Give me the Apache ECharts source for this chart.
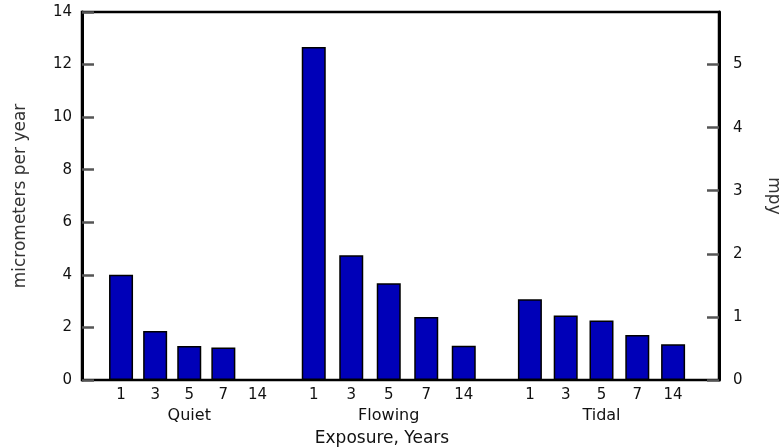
<!DOCTYPE html>
<html>
<head>
<meta charset="utf-8">
<script src="https://cdn.jsdelivr.net/npm/echarts@6/dist/echarts.min.js"></script>
<style>
  html, body { margin: 0; padding: 0; background: #fff; }
  #chart { width: 782px; height: 448px; }
</style>
</head>
<body>
<div id="chart"></div>
<script>
// ---- data ----
const exposureYears = ['1', '3', '5', '7', '14'];
const groupNames = ['Quiet', 'Flowing', 'Tidal'];
const quietRates = [4.0, 1.86, 1.29, 1.24, 0];
const flowingRates = [12.67, 4.75, 3.68, 2.40, 1.30];
const tidalRates = [3.07, 2.45, 2.26, 1.71, 1.36];
const leftAxisMax = 14;           // micrometers per year
const rightAxisAtTwelve = 5;      // mpy shown where 12 µm/y sits
const xTitle = 'Exposure, Years';
const leftTitle = 'micrometers per year';
const rightTitle = 'mpy';

// ---- layout ----
const FONT = 'DejaVu Sans';
const TOP = 12, BOTTOM = 68;
const groupLayout = [
  { left: 104, width: 170.5 },
  { left: 295, width: 187.5 },
  { left: 512, width: 179 }
];
const seriesValues = [quietRates, flowingRates, tidalRates];

const grids = [{ left: 82, right: 63, top: TOP, bottom: BOTTOM, show: true,
  containLabel: false, outerBoundsMode: 'none',
  borderColor: '#000', borderWidth: 2.5, backgroundColor: 'transparent' }];
const xAxes = [{ gridIndex: 0, type: 'value', show: false, min: 0, max: 1 }];
const yAxes = [
  { gridIndex: 0, type: 'value', position: 'left', min: 0, max: leftAxisMax, interval: 2,
    axisLine: { show: true, lineStyle: { color: '#000', width: 3 } },
    axisTick: { show: true, inside: true, length: 12, lineStyle: { color: '#555', width: 2.5 } },
    axisLabel: { margin: 10, fontFamily: FONT, fontSize: 15, color: '#111' },
    splitLine: { show: false },
    name: leftTitle, nameLocation: 'middle', nameRotate: 90, nameGap: 53,
    nameTextStyle: { fontFamily: FONT, fontSize: 17, color: '#333' } },
  { gridIndex: 0, type: 'value', position: 'right', min: 0,
    max: leftAxisMax * rightAxisAtTwelve / 12, interval: 1,
    axisLine: { show: true, lineStyle: { color: '#000', width: 3 } },
    axisTick: { show: true, inside: true, length: 12, lineStyle: { color: '#555', width: 2.5 } },
    axisLabel: { margin: 14, fontFamily: FONT, fontSize: 15, color: '#111', showMaxLabel: false },
    splitLine: { show: false },
    name: rightTitle, nameLocation: 'middle', nameRotate: -90, nameGap: 46,
    nameTextStyle: { fontFamily: FONT, fontSize: 17, color: '#333' } }
];
const series = [];
groupNames.forEach((g, i) => {
  grids.push({ left: groupLayout[i].left, width: groupLayout[i].width, top: TOP, bottom: BOTTOM,
    containLabel: false, outerBoundsMode: 'none' });
  xAxes.push({ gridIndex: i + 1, type: 'category', data: exposureYears,
    axisLine: { show: false }, axisTick: { show: false },
    axisLabel: { margin: 8, fontFamily: FONT, fontSize: 15, color: '#111' },
    name: g, nameLocation: 'middle', nameGap: 23,
    nameTextStyle: { fontFamily: FONT, fontSize: 16, color: '#111' } });
  yAxes.push({ gridIndex: i + 1, type: 'value', min: 0, max: leftAxisMax, show: false });
  series.push({ type: 'bar', name: g, xAxisIndex: i + 1, yAxisIndex: i + 2,
    data: seriesValues[i], barWidth: 24,
    itemStyle: { color: '#0000B8', borderColor: '#000', borderWidth: 1.5 } });
});

const chart = echarts.init(document.getElementById('chart'));
chart.setOption({
  animation: false,
  backgroundColor: '#fff',
  grid: grids,
  xAxis: xAxes,
  yAxis: yAxes,
  series: series,
  graphic: [{
    type: 'text', x: 382, y: 439,
    style: { text: xTitle, fontFamily: FONT, fontSize: 17, fill: '#111',
      align: 'center', verticalAlign: 'middle' }
  }]
});
</script>
</body>
</html>
